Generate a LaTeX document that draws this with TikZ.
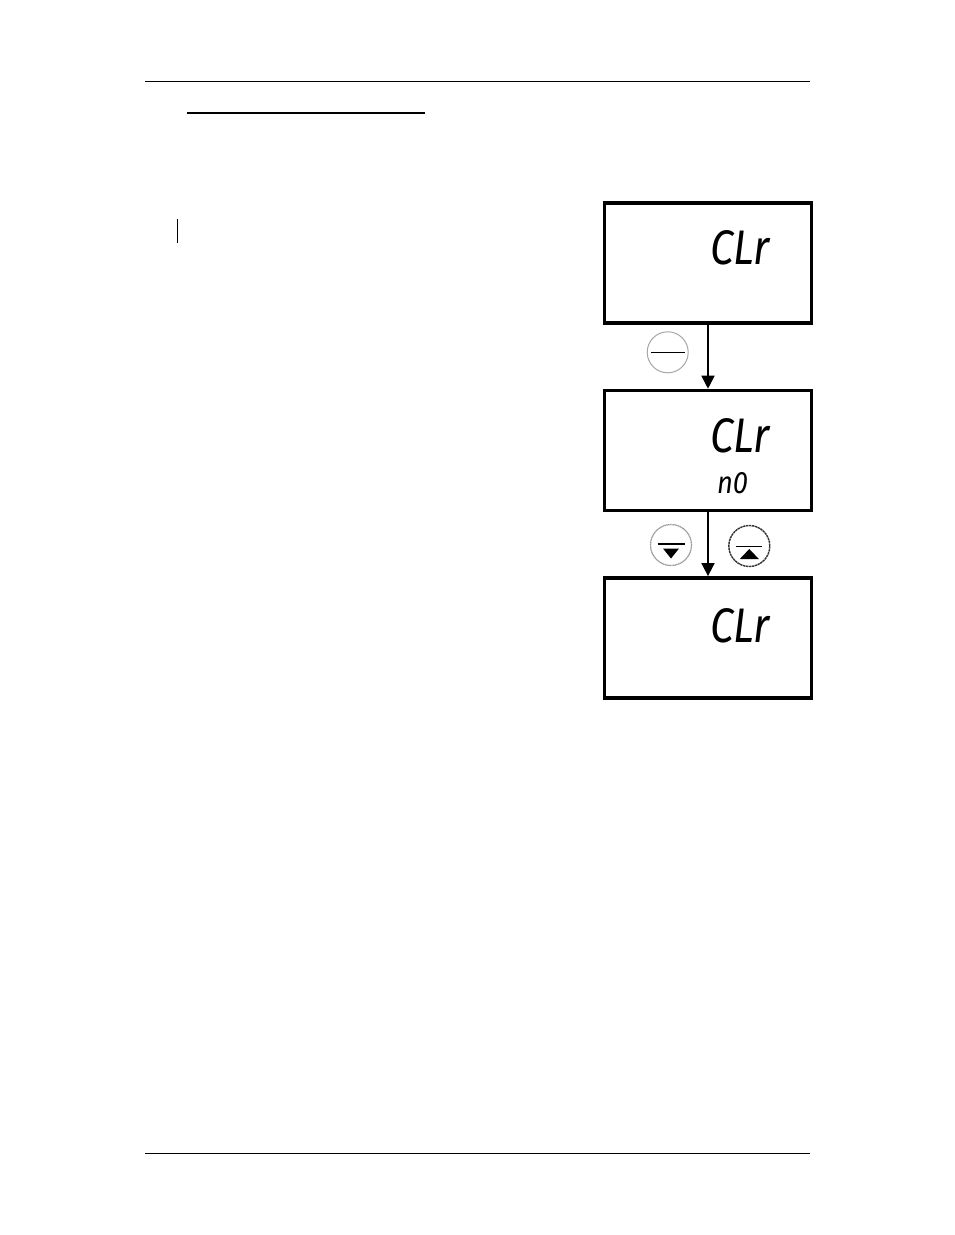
\documentclass[tikz,border=0pt]{standalone}
\usepackage{fontspec}
\usepackage{tikz}
\usetikzlibrary{positioning, arrows.meta}
\newfontfamily\lcdfont{Fira Sans}
\newcommand{\lcdbig}[1]{\resizebox{60pt}{34pt}{\lcdfont\itshape #1}}
\newcommand{\lcdsmall}[1]{\resizebox{31pt}{21pt}{\lcdfont\itshape #1}}

\begin{document}
\begin{tikzpicture}[x=1pt, y=-1pt, node distance=64pt and 0pt,
  disp/.style={draw, line width=3.4pt, minimum width=207pt, minimum height=120pt, inner sep=0pt},
  lcd/.style={inner sep=0pt, outer sep=0pt},
  btn/.style={draw, circle, minimum size=41pt, inner sep=0pt},
  flow/.style={line width=1.7pt, -{Triangle[length=13pt, width=13pt]}}]
\useasboundingbox (0,0) rectangle (954,1235);
% page furniture
\draw[line width=1.3pt] (145,81.5) -- (810,81.5);
\draw[line width=1.3pt] (145,1153.5) -- (810,1153.5);
\draw[line width=2.4pt] (187,113) -- (425,113);
\draw[line width=1pt] (177.5,219) -- (177.5,243);
% displays
\node[disp] (clr) at (708,263) {};
\node[disp, below=of clr] (clrno) {};
\node[disp, below=of clrno] (clryes) {};
\node[lcd, xshift=32pt, yshift=15pt] (t1) at (clr) {\lcdbig{CLr}};
\node[lcd, xshift=32pt, yshift=15pt] (t2) at (clrno) {\lcdbig{CLr}};
\node[lcd, xshift=24.5pt, yshift=-32.5pt] (t2b) at (clrno) {\lcdsmall{n0}};
\node[lcd, xshift=32pt, yshift=12pt] (t3) at (clryes) {\lcdbig{CLr}};
% arrows
\draw[flow] (clr) -- (clrno);
\draw[flow] (clrno) -- (clryes);
% buttons
\node[btn, draw=black!35, line width=1pt] (btnset) at (667.7,352.3) {};
\draw[line width=1.5pt] ([xshift=-17pt]btnset.center) -- ([xshift=17pt]btnset.center);
\node[btn, draw=black!40, line width=1.3pt, dash pattern=on 1.2pt off 0.5pt] (btndown) at (671,545) {};
\draw[line width=1.7pt] ([xshift=-13.5pt, yshift=0.7pt]btndown.center) -- ([xshift=13.5pt, yshift=0.7pt]btndown.center);
\fill ([xshift=-8pt, yshift=-3.5pt]btndown.center) -- ([xshift=8pt, yshift=-3.5pt]btndown.center) -- ([yshift=-13.5pt]btndown.center) -- cycle;
\node[btn, draw=black!80, line width=1.4pt, dash pattern=on 2.4pt off 0.6pt] (btnup) at (749.3,546) {};
\draw[line width=0.9pt] ([xshift=-13pt]btnup.center) -- ([xshift=13pt]btnup.center);
\fill ([xshift=-9.5pt, yshift=-13pt]btnup.center) -- ([xshift=9.5pt, yshift=-13pt]btnup.center) -- ([yshift=-3pt]btnup.center) -- cycle;
\end{tikzpicture}
\end{document}
